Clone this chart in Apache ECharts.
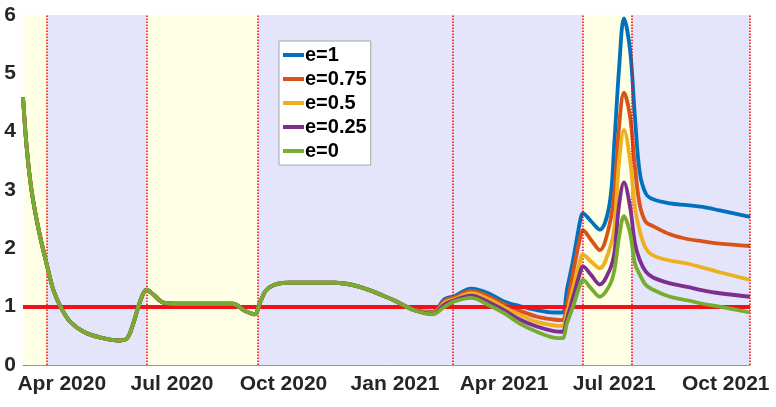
<!DOCTYPE html>
<html><head><meta charset="utf-8">
<script src="https://cdn.jsdelivr.net/npm/echarts@6/dist/echarts.min.js"></script>
<style>html,body{margin:0;padding:0;background:#fff}#c{width:776px;height:407px}</style>
</head><body><div id="c"></div>
<script>
// ---------------- data ----------------
const seriesNames = ['e=1', 'e=0.75', 'e=0.5', 'e=0.25', 'e=0'];

// shared part (all scenarios identical before Feb 2021)
const earlyDates = ['2020-02-29','2020-03-03','2020-03-07','2020-03-13','2020-03-20','2020-03-25','2020-03-31',
  '2020-04-08','2020-04-19','2020-05-03','2020-05-19','2020-05-25','2020-05-30','2020-06-05','2020-06-10',
  '2020-06-16','2020-06-24','2020-07-08','2020-07-25','2020-08-20','2020-08-30','2020-09-07','2020-09-12',
  '2020-09-17','2020-09-26','2020-10-06','2020-11-11','2020-12-03','2020-12-31','2021-01-17'];
const earlyValues = [4.59,3.74,3.00,2.31,1.69,1.29,1.00,
  0.74,0.57,0.47,0.42,0.46,0.71,1.11,1.29,
  1.20,1.07,1.05,1.05,1.05,0.93,0.87,1.09,
  1.29,1.39,1.41,1.41,1.34,1.11,0.94];

// scenario-specific part
const lateDates = ['2021-02-01','2021-02-11','2021-02-19','2021-03-05','2021-03-19','2021-04-01','2021-04-14',
  '2021-04-28','2021-05-12','2021-05-19','2021-05-23','2021-05-28','2021-06-03','2021-06-05','2021-06-12',
  '2021-06-19','2021-06-27','2021-07-01','2021-07-05','2021-07-09','2021-07-14','2021-07-18','2021-07-22',
  '2021-07-27','2021-08-02','2021-08-16','2021-08-30','2021-09-12','2021-09-26','2021-10-21'];
const lateE100 = [0.91,1.13,1.18,1.31,1.23,1.09,1.01, 0.94,0.90,0.90,1.30,1.80,2.49,2.60,2.46, 2.32,2.75,3.80,5.10,5.94,5.40,4.26,3.30, 2.94,2.84,2.77,2.74,2.71,2.65,2.54];
const lateE075 = [0.90,1.10,1.16,1.27,1.18,1.04,0.93, 0.83,0.78,0.77,1.05,1.59,2.20,2.31,2.14, 1.97,2.40,2.95,4.10,4.67,4.26,3.40,2.75, 2.45,2.38,2.24,2.16,2.12,2.08,2.04];
const lateE050 = [0.89,1.07,1.13,1.23,1.13,0.99,0.86, 0.74,0.68,0.67,0.90,1.32,1.80,1.89,1.77, 1.66,1.98,2.35,3.50,4.03,3.51,2.71,2.30, 2.00,1.88,1.79,1.74,1.67,1.59,1.46];
const lateE025 = [0.88,1.04,1.11,1.19,1.08,0.94,0.78, 0.66,0.58,0.57,0.80,1.16,1.60,1.69,1.54, 1.38,1.62,1.92,2.75,3.13,2.71,2.09,1.80, 1.60,1.50,1.40,1.34,1.28,1.23,1.17];
const lateE000 = [0.87,1.00,1.09,1.15,1.03,0.89,0.71, 0.57,0.47,0.46,0.72,1.00,1.40,1.46,1.31, 1.17,1.36,1.62,2.20,2.55,2.26,1.74,1.55, 1.37,1.29,1.17,1.11,1.05,1.00,0.90];
const lateValues = [lateE100, lateE075, lateE050, lateE025, lateE000];

const xStart = '2020-02-29';
const xEnd = '2021-10-21';
const tickDates = ['2020-04-01','2020-07-01','2020-10-01','2021-01-01','2021-04-01','2021-07-01','2021-10-01'];
const tickLabels = ['Apr 2020','Jul 2020','Oct 2020','Jan 2021','Apr 2021','Jul 2021','Oct 2021'];
const yTicks = [0, 1, 2, 3, 4, 5, 6];
const thresholdValue = 1;

// policy change dates (red dotted lines)
const phaseLineDates = ['2020-03-20','2020-06-10','2020-09-10','2021-02-18','2021-06-05','2021-07-15','2021-10-21'];
// shaded periods: kind 0 = relaxed (yellow), 1 = restricted (blue)
const shadeStarts = ['2020-02-29','2020-03-20','2020-06-10','2020-09-10','2021-06-05','2021-07-15'];
const shadeEnds   = ['2020-03-20','2020-06-10','2020-09-10','2021-06-05','2021-07-15','2021-10-21'];
const shadeKinds  = [0, 1, 0, 1, 0, 1];

// ---------------- chart ----------------
function ts(s) { const p = s.split('-').map(Number); return Date.UTC(p[0], p[1] - 1, p[2]); }
const colors = ['#0072BD', '#D95319', '#EDB120', '#7E2F8E', '#77AC30'];
const shadeColors = ['#FFFFE6', '#E4E4FB'];
const FONT = '"Liberation Sans", Arial, Helvetica, sans-serif';

const tickTs = tickDates.map(ts);

const lineSeries = seriesNames.map((name, i) => {
  const data = earlyDates.map((d, k) => [ts(d), earlyValues[k]])
    .concat(lateDates.map((d, k) => [ts(d), lateValues[i][k]]));
  return {
    name, type: 'line', data, smooth: 0.35, showSymbol: false, symbol: 'none',
    lineStyle: { color: colors[i], width: 3.8 }, itemStyle: { color: colors[i] },
    z: 3 + i, silent: true
  };
});

const bgSeries = {
  name: 'bg', type: 'line', data: [], z: 1, silent: true,
  markArea: {
    silent: true,
    data: shadeStarts.map((s, k) => [
      { xAxis: ts(s), itemStyle: { color: shadeColors[shadeKinds[k]] } },
      { xAxis: ts(shadeEnds[k]) }
    ])
  }
};

const vlineSeries = {
  name: 'vlines', type: 'line', data: [], z: 2, silent: true,
  markLine: {
    silent: true, symbol: 'none', label: { show: false },
    lineStyle: { color: '#ff0000', type: [1.5, 1.5], width: 1.6, opacity: 0.95 },
    data: phaseLineDates.map(d => ({ xAxis: ts(d) }))
  }
};

const hlineSeries = {
  name: 'threshold', type: 'line', data: [], z: 20, silent: true,
  markLine: {
    silent: true, symbol: 'none', label: { show: false },
    lineStyle: { color: '#f2111b', type: 'solid', width: 4 },
    data: [{ yAxis: thresholdValue }]
  }
};

const chart = echarts.init(document.getElementById('c'), null, { renderer: 'canvas' });
chart.setOption({
  animation: false,
  backgroundColor: '#ffffff',
  grid: { left: 23, right: 26, top: 15, bottom: 42, containLabel: false },
  legend: {
    data: seriesNames,
    orient: 'vertical',
    left: 279, top: 41,
    backgroundColor: '#ffffff',
    borderColor: '#a6a6a6', borderWidth: 1, borderRadius: 0,
    padding: [4, 4, 4, 4],
    itemGap: 4,
    itemWidth: 21, itemHeight: 4,
    icon: 'rect',
    textStyle: { fontFamily: FONT, fontWeight: 'bold', fontSize: 20, color: '#000', padding: [0, 0, 0, -4] },
    selectedMode: false
  },
  xAxis: {
    type: 'value', min: ts(xStart), max: ts(xEnd), scale: true,
    axisLine: { show: true, lineStyle: { color: '#9a9a9a', width: 1 } },
    axisTick: { show: true, inside: true, length: 6, customValues: tickTs, lineStyle: { color: '#8c8c8c', width: 1 } },
    axisLabel: {
      show: true, customValues: tickTs, margin: 9,
      fontFamily: FONT, fontWeight: 'bold', fontSize: 21, color: '#262626',
      hideOverlap: false,
      formatter: function (v) {
        for (let k = 0; k < tickTs.length; k++) if (Math.abs(tickTs[k] - v) < 43200000) return tickLabels[k];
        return '';
      }
    },
    splitLine: { show: false }
  },
  yAxis: {
    type: 'value', min: yTicks[0], max: yTicks[yTicks.length - 1], interval: 1,
    axisLine: { show: true, lineStyle: { color: '#c8c8c8', width: 1 } },
    axisTick: { show: true, inside: true, length: 6, lineStyle: { color: '#8c8c8c', width: 1 } },
    axisLabel: { margin: 7, fontFamily: FONT, fontWeight: 'bold', fontSize: 21, color: '#262626' },
    splitLine: { show: false }
  },
  series: [bgSeries, vlineSeries].concat(lineSeries).concat([hlineSeries])
});
</script>
</body></html>
